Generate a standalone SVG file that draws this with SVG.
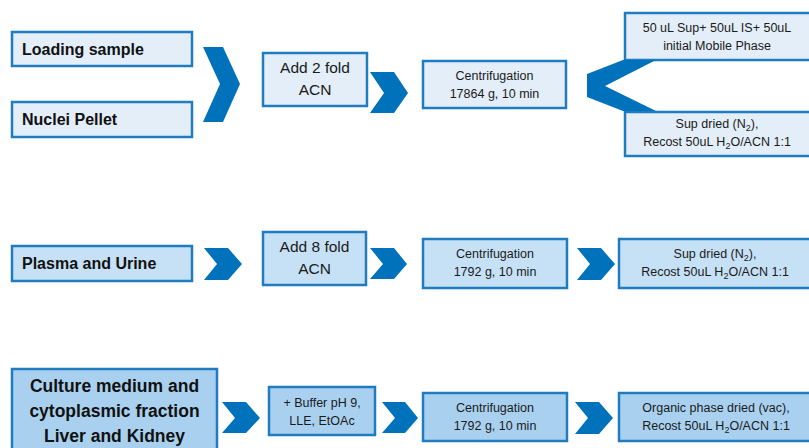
<svg xmlns="http://www.w3.org/2000/svg" width="809" height="448" viewBox="0 0 809 448">
<style>
.box{stroke:#1f7cc1;stroke-width:2.5}
.r1{fill:#e3eef9}
.r2{fill:#c6e1f5}
.r3{fill:#a9d1ef}
.chev{fill:#0071bb}
.b{font-family:"Liberation Sans",Arial,sans-serif;font-weight:bold;font-size:16px;fill:#111}
.t{font-family:"Liberation Sans",Arial,sans-serif;font-size:12.5px;fill:#1a1a1a;text-anchor:middle}
.t15{font-family:"Liberation Sans",Arial,sans-serif;font-size:15.5px;fill:#1a1a1a;text-anchor:middle}
.c{text-anchor:middle;font-size:17.5px}
</style>
<rect width="809" height="448" fill="#fff"/>

<g id="loading">
<rect class="box r1" x="12" y="32" width="180" height="34"/>
<text class="b" x="22" y="55">Loading sample</text>
</g>
<g id="nuclei">
<rect class="box r1" x="12" y="102" width="180" height="35"/>
<text class="b" x="22" y="125">Nuclei Pellet</text>
</g>
<g id="add2">
<rect class="box r1" x="263" y="53" width="104" height="53"/>
<text class="t15" x="315" y="73">Add 2 fold</text>
<text class="t15" x="315" y="95">ACN</text>
</g>
<g id="cent1">
<rect class="box r1" x="423" y="61" width="143" height="47"/>
<text class="t" x="494.5" y="80">Centrifugation</text>
<text class="t" x="494.5" y="98">17864 g, 10 min</text>
</g>
<g id="sup50">
<rect class="box r1" x="625" y="13" width="190" height="47"/>
<text class="t" x="717" y="32">50 uL Sup+ 50uL IS+ 50uL</text>
<text class="t" x="717" y="50">initial Mobile Phase</text>
</g>
<g id="supdried1">
<rect class="box r1" x="625" y="112" width="190" height="44"/>
<text class="t" x="717" y="128">Sup dried (N<tspan font-size="9" dy="3">2</tspan><tspan dy="-3">),</tspan></text>
<text class="t" x="717" y="146">Recost 50uL H<tspan font-size="9" dy="3">2</tspan><tspan dy="-3">O/ACN 1:1</tspan></text>
</g>

<g id="plasma">
<rect class="box r2" x="12" y="246" width="180" height="35"/>
<text class="b" x="22" y="269">Plasma and Urine</text>
</g>
<g id="add8">
<rect class="box r2" x="263" y="232" width="103" height="53"/>
<text class="t15" x="314.5" y="252">Add 8 fold</text>
<text class="t15" x="314.5" y="274">ACN</text>
</g>
<g id="cent2">
<rect class="box r2" x="423" y="239" width="144" height="49"/>
<text class="t" x="495" y="258">Centrifugation</text>
<text class="t" x="495" y="276">1792 g, 10 min</text>
</g>
<g id="supdried2">
<rect class="box r2" x="619" y="239" width="196" height="49"/>
<text class="t" x="715" y="258">Sup dried (N<tspan font-size="9" dy="3">2</tspan><tspan dy="-3">),</tspan></text>
<text class="t" x="715" y="276">Recost 50uL H<tspan font-size="9" dy="3">2</tspan><tspan dy="-3">O/ACN 1:1</tspan></text>
</g>

<g id="culture">
<rect class="box r3" x="12" y="369" width="205" height="90"/>
<text class="b c" x="114.5" y="392">Culture medium and</text>
<text class="b c" x="114.5" y="417">cytoplasmic fraction</text>
<text class="b c" x="114.5" y="442">Liver and Kidney</text>
</g>
<g id="buffer">
<rect class="box r3" x="269" y="387" width="106" height="48"/>
<text class="t" x="322" y="407" font-size="12">+ Buffer pH 9,</text>
<text class="t" x="322" y="425" font-size="12">LLE, EtOAc</text>
</g>
<g id="cent3">
<rect class="box r3" x="423" y="393" width="144" height="48"/>
<text class="t" x="495" y="412">Centrifugation</text>
<text class="t" x="495" y="430">1792 g, 10 min</text>
</g>
<g id="organic">
<rect class="box r3" x="619" y="393" width="196" height="48"/>
<text class="t" x="716" y="412">Organic phase dried (vac),</text>
<text class="t" x="716" y="430">Recost 50uL H<tspan font-size="9" dy="3">2</tspan><tspan dy="-3">O/ACN 1:1</tspan></text>
</g>

<g id="connectors">
<polygon class="chev" points="203,47 223,47 240,84 223,122 203,122 220,84"/>
<polygon class="chev" points="370,72 394,72 408,93 394,113 370,113 384,93"/>
<polygon class="chev" points="623,60 656,60 605,86 656,111 623,111 587,97 587,74"/>
<polygon class="chev" points="204,248 228,248 242,264 228,280 204,280 217,264"/>
<polygon class="chev" points="370,248 394,248 407,264 394,279 370,279 383,264"/>
<polygon class="chev" points="577,248 601,248 615,264 601,280 577,280 590,264"/>
<polygon class="chev" points="222,402 246,402 260,418 246,433 222,433 235,418"/>
<polygon class="chev" points="382,402 405,402 418,418 405,433 382,433 395,418"/>
<polygon class="chev" points="575,402 599,402 613,418 599,434 575,434 588,418"/>
</g>
</svg>
